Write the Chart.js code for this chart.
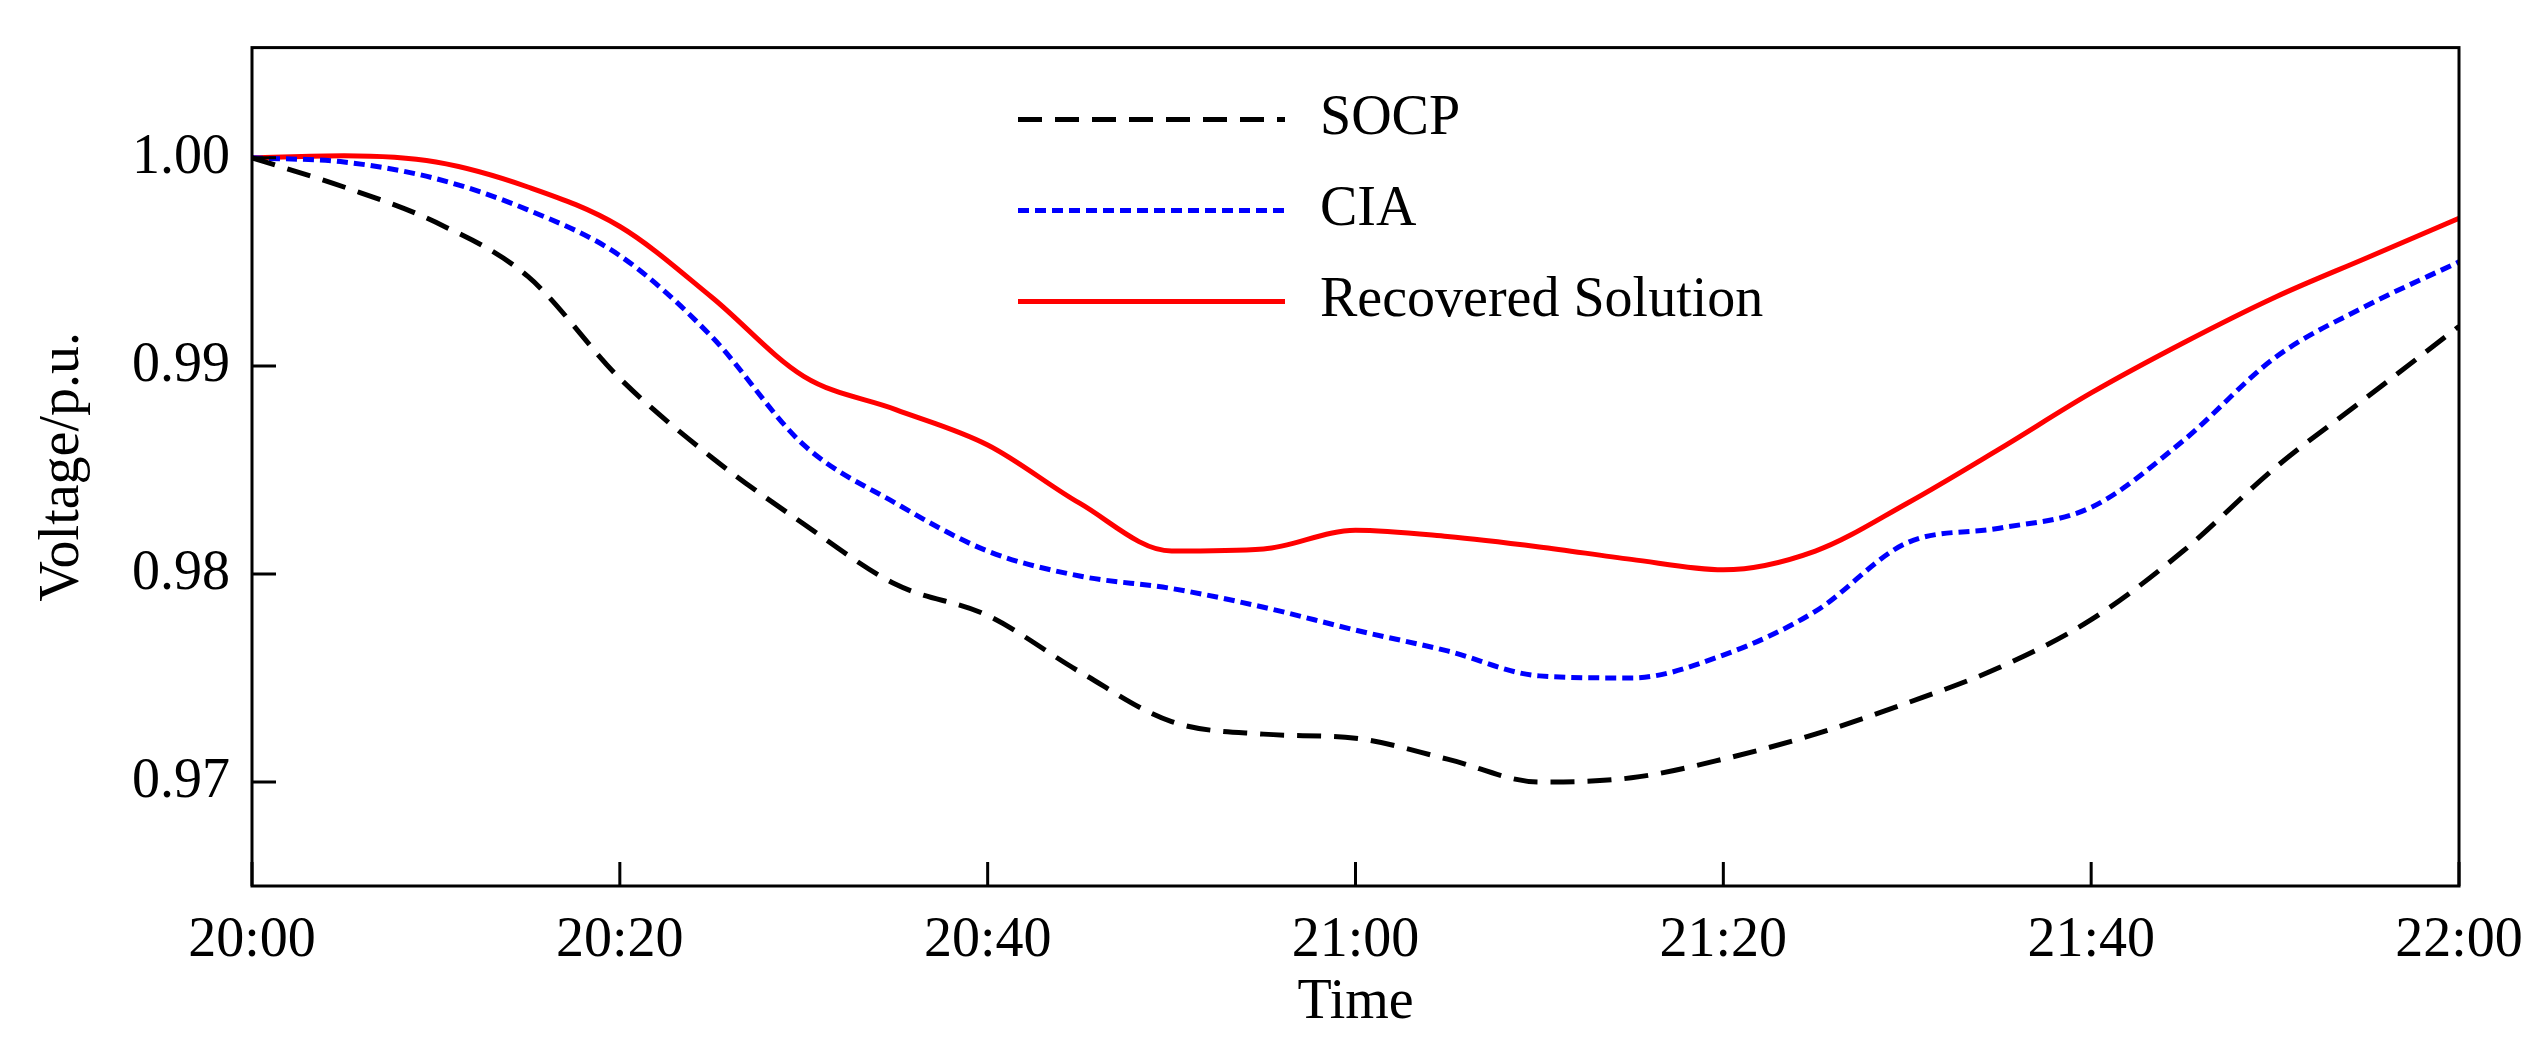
<!DOCTYPE html>
<html>
<head>
<meta charset="utf-8">
<script src="https://cdn.jsdelivr.net/npm/chart.js@4"></script>
<style>
  html, body { margin: 0; padding: 0; background: #fff; }
  #wrap { width: 2548px; height: 1037px; }
</style>
</head>
<body>
<div id="wrap"><canvas id="c"></canvas></div>
<script>
// ── Data (minutes after 20:00, 5-minute steps) ──
const MINUTES = [0,5,10,15,20,25,30,35,40,45,50,55,60,65,70,75,80,85,90,95,100,105,110,115,120];
const SOCP = [1.0000,0.9986,0.9969,0.9943,0.9894,0.9856,0.9824,0.9795,0.9780,0.9753,0.9729,0.9723,0.9721,0.9711,0.9700,0.9702,0.9711,0.9723,0.9738,0.9755,0.9778,0.9811,0.9851,0.9885,0.9919];
const CIA = [1.0000,0.9998,0.9990,0.9975,0.9953,0.9914,0.9862,0.9834,0.9811,0.9799,0.9793,0.9784,0.9773,0.9763,0.9751,0.9750,0.9761,0.9782,0.9815,0.9822,0.9832,0.9864,0.9904,0.9929,0.9950];
const RECOVERED = [1.0000,1.0001,0.9998,0.9986,0.9967,0.9933,0.9895,0.9879,0.9862,0.9834,0.9811,0.9812,0.9821,0.9818,0.9813,0.9807,0.9802,0.9811,0.9834,0.9860,0.9887,0.9911,0.9933,0.9952,0.9971];
const X_TICKS = [0,20,40,60,80,100,120];
const Y_TICKS = [0.97,0.98,0.99,1.00];

const FONT = "Liberation Serif";
const FONT_SIZE = 56;

function fmtTime(m) {
    const h = 20 + Math.floor(m / 60);
    const mm = m % 60;
    return h + ":" + (mm < 10 ? "0" : "") + mm;
}

function pts(arr) { return MINUTES.map((m, i) => ({ x: m, y: arr[i] })); }

// ── Inward ticks + frame + legend ──
const framePlugin = {
    id: "frame",
    afterDatasetsDraw(chart) {
        const { ctx, chartArea: a, scales } = chart;
        ctx.save();
        ctx.strokeStyle = "#000";
        ctx.lineWidth = 3;
        ctx.strokeRect(a.left, a.top, a.right - a.left, a.bottom - a.top);
        ctx.beginPath();
        X_TICKS.forEach(t => {
            const x = scales.x.getPixelForValue(t);
            ctx.moveTo(x, a.bottom); ctx.lineTo(x, a.bottom - 24);
        });
        Y_TICKS.forEach(t => {
            const y = scales.y.getPixelForValue(t);
            ctx.moveTo(a.left, y); ctx.lineTo(a.left + 24, y);
        });
        ctx.stroke();

        // legend
        const items = [
            { label: "SOCP", color: "#000", dash: [24, 13] },
            { label: "CIA", color: "#0000ff", dash: [11, 6] },
            { label: "Recovered Solution", color: "#ff0000", dash: [] },
        ];
        ctx.font = FONT_SIZE + "px '" + FONT + "'";
        ctx.textBaseline = "middle";
        items.forEach((it, i) => {
            const y = a.top + 72 + i * 91;
            ctx.strokeStyle = it.color;
            ctx.lineWidth = 5;
            ctx.setLineDash(it.dash);
            ctx.beginPath();
            ctx.moveTo(1018, y); ctx.lineTo(1285, y);
            ctx.stroke();
            ctx.setLineDash([]);
            ctx.fillStyle = "#000";
            ctx.fillText(it.label, 1320, y);
        });
        ctx.restore();
    }
};

new Chart(document.getElementById("c"), {
    type: "line",
    data: {
        datasets: [
            { label: "SOCP", data: pts(SOCP), borderColor: "#000", borderDash: [24, 13], borderWidth: 5 },
            { label: "CIA", data: pts(CIA), borderColor: "#0000ff", borderDash: [11, 6], borderWidth: 5 },
            { label: "Recovered Solution", data: pts(RECOVERED), borderColor: "#ff0000", borderWidth: 5 },
        ].map(d => Object.assign(d, { pointRadius: 0, tension: 0.4, cubicInterpolationMode: "monotone", fill: false })),
    },
    options: {
        responsive: true,
        maintainAspectRatio: false,
        animation: false,
        layout: { padding: { top: 14, right: 89, left: 0, bottom: 0 } },
        plugins: { legend: { display: false }, tooltip: { enabled: false } },
        scales: {
            x: {
                type: "linear", min: 0, max: 120,
                afterBuildTicks: s => { s.ticks = X_TICKS.map(v => ({ value: v })); },
                afterFit: s => { s.height = 151; },
                grid: { display: false },
                border: { display: false },
                ticks: { color: "#000", padding: 14, font: { family: FONT, size: FONT_SIZE }, callback: v => fmtTime(v) },
                title: { display: true, text: "Time", color: "#000", padding: { top: -14, bottom: 0 }, font: { family: FONT, size: FONT_SIZE } },
            },
            y: {
                min: 0.965, max: 1.0053,
                afterBuildTicks: s => { s.ticks = Y_TICKS.map(v => ({ value: v })); },
                afterFit: s => { s.width = 252; },
                grid: { display: false },
                border: { display: false },
                ticks: { color: "#000", padding: 14, font: { family: FONT, size: FONT_SIZE }, callback: v => v.toFixed(2) },
                title: { display: true, text: "Voltage/p.u.", color: "#000", padding: { top: 30, bottom: 4 }, font: { family: FONT, size: FONT_SIZE } },
            },
        },
    },
    plugins: [framePlugin],
});
</script>
</body>
</html>
